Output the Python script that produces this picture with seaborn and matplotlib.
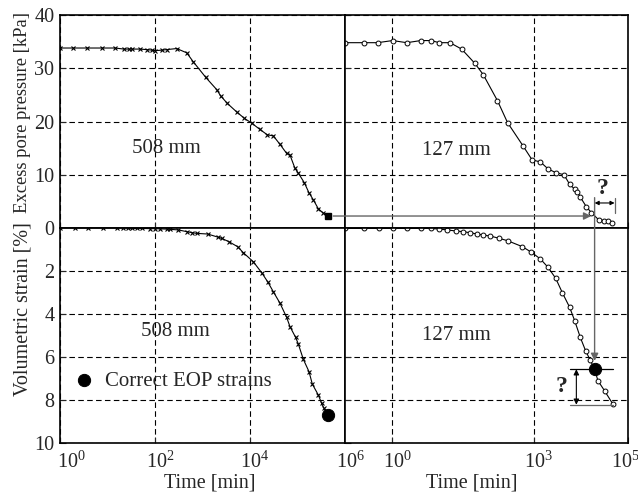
import numpy as np
import pandas as pd
import matplotlib
matplotlib.use('Agg')
import matplotlib.pyplot as plt
import seaborn as sns
from matplotlib.patches import ConnectionPatch
from matplotlib.transforms import ScaledTranslation
from matplotlib.ticker import FixedLocator, LogFormatterSciNotation, NullLocator, NullFormatter

sns.set_theme(style='ticks')
plt.rcParams['font.family'] = ['Liberation Serif', 'DejaVu Serif']
plt.rcParams['mathtext.fontset'] = 'custom'
plt.rcParams['mathtext.rm'] = 'Liberation Serif'
plt.rcParams['mathtext.it'] = 'Liberation Serif:italic'
plt.rcParams['mathtext.bf'] = 'Liberation Serif:bold'

# ---------------- data ----------------
# 508 mm specimen: excess pore pressure [kPa] vs time [min]
t_pp_508 = [1, 1.9, 3.76, 7.5, 14.4, 22.2, 28.4, 33.3, 48.3, 66.8, 87.9, 100, 138, 176, 286,
            465, 641, 1167, 1986, 2415, 3334, 5236, 7603, 10839, 16218, 23174, 30974,
            42855, 59156, 69502, 88512, 104200, 139300, 174600, 215300, 274800, 349900, 431500]
u_508 = [33.8, 33.8, 33.8, 33.8, 33.8, 33.6, 33.6, 33.6, 33.6, 33.5, 33.4, 33.3, 33.4, 33.5, 33.7,
         32.9, 31.2, 28.3, 26.0, 24.8, 23.4, 21.8, 20.6, 19.7, 18.5, 17.5, 17.3,
         15.7, 14.0, 13.7, 11.2, 10.3, 8.5, 6.6, 5.3, 3.6, 2.8, 2.25]

# 127 mm specimen: excess pore pressure [kPa] vs time [min]
t_pp_127 = [0.101, 0.248, 0.49, 1.02, 2.04, 4.04, 6.67, 10, 16.8, 29.7, 56.9, 85.3, 171, 279,
            597, 925, 1390, 2018, 2931, 4395, 5794, 7396, 8433, 9750, 13060, 16630, 24150,
            30340, 37410, 46340]
u_127 = [34.8, 34.8, 34.8, 35.2, 34.8, 35.2, 35.2, 34.8, 34.8, 33.6, 30.9, 28.8, 23.9, 19.8,
         15.4, 12.8, 12.4, 11.1, 10.4, 10.0, 8.2, 7.3, 6.8, 5.8, 4.0, 2.9, 1.5,
         1.4, 1.3, 1.0]

# 508 mm specimen: volumetric strain [%]
t_ev_508 = [1, 2.07, 3.94, 8.17, 15.6, 21.5, 27.5, 33.3, 41.1, 54.1, 78.5, 100, 127, 176, 207,
            309, 468, 611, 753, 1285, 2153, 2529, 3614, 5495, 7244, 11750, 17620, 23550,
            30900, 42855, 59156, 69502, 91410, 104200, 132700, 174600, 205100, 274800,
            322800, 361400, 431500]
ev_508 = [0.0, 0.0, 0.0, 0.0, 0.0, 0.0, 0.0, 0.02, 0.02, 0.02, 0.03, 0.03, 0.04, 0.05, 0.06,
          0.09, 0.17, 0.22, 0.25, 0.28, 0.43, 0.48, 0.64, 0.87, 1.15, 1.57, 2.08, 2.5,
          2.96, 3.5, 4.16, 4.59, 5.09, 5.4, 6.11, 6.68, 7.26, 7.77, 8.16, 8.39, 8.7]

# 127 mm specimen: volumetric strain [%]
t_ev_127 = [0.101, 0.248, 0.514, 1.02, 2.04, 4.04, 6.67, 10, 14.8, 22.5, 32.2, 44.6, 63.7,
            85.3, 118, 186, 279, 579, 897, 1390, 2018, 2931, 4055, 5794, 7396, 9750,
            12620, 15850, 19590, 23010, 31840, 47750]
ev_127 = [0.02, 0.02, 0.02, 0.02, 0.02, 0.02, 0.02, 0.05, 0.09, 0.14, 0.17, 0.22, 0.28,
          0.33, 0.37, 0.48, 0.59, 0.87, 1.13, 1.44, 1.83, 2.34, 3.01, 3.69, 4.31, 5.09,
          5.71, 6.15, 6.57, 7.1, 7.57, 8.19]

# correct EOP strains
eop_t_508, eop_ev_508 = [431500], [8.7]
eop_t_127, eop_ev_127 = [19590], [6.57]
eop_u_508 = 2.25

left_ticks = [1, 1e2, 1e4, 1e6]
right_ticks = [1, 1e3, 1e5]

# ---------------- figure ----------------
W, H = 638, 495
fig = plt.figure(figsize=(W / 100, H / 100), dpi=100)

def px_axes(l, t, r, b):
    return fig.add_axes([l / W, 1 - b / H, (r - l) / W, (b - t) / H])

ax_tl = px_axes(60, 15, 345, 228)
ax_tr = px_axes(345, 15, 628, 228)
ax_bl = px_axes(60, 228, 345, 443)
ax_br = px_axes(345, 228, 628, 443)

FS = 14.5
for ax in (ax_tl, ax_tr, ax_bl, ax_br):
    ax.set_xscale('log')
    for s in ax.spines.values():
        s.set_linewidth(1.2)
        s.set_color('black')

line_kw = dict(color='black', linewidth=0.8, estimator=None, sort=False)

sns.lineplot(x=t_pp_508, y=u_508, ax=ax_tl, marker='x', markersize=3.5,
             markeredgewidth=0.8, markeredgecolor='black', **line_kw)
ax_tl.plot([t_pp_508[-1]], [eop_u_508], marker='s', color='black', markersize=5, zorder=5)

sns.lineplot(x=t_pp_127, y=u_127, ax=ax_tr, marker='o', markersize=3.5,
             markeredgewidth=0.7, markeredgecolor='black', markerfacecolor='white', **line_kw)

sns.lineplot(x=t_ev_508, y=ev_508, ax=ax_bl, marker='x', markersize=3.5,
             markeredgewidth=0.8, markeredgecolor='black', **line_kw)
sns.scatterplot(x=eop_t_508, y=eop_ev_508, ax=ax_bl, s=78, color='black',
                edgecolor='black', zorder=6, label='Correct EOP strains')

sns.lineplot(x=t_ev_127, y=ev_127, ax=ax_br, marker='o', markersize=3.5,
             markeredgewidth=0.7, markeredgecolor='black', markerfacecolor='white', **line_kw)
sns.scatterplot(x=eop_t_127, y=eop_ev_127, ax=ax_br, s=78, color='black',
                edgecolor='black', zorder=6)

# limits & ticks
for ax in (ax_tl, ax_bl):
    ax.set_xlim(1, 1e6)
    ax.xaxis.set_major_locator(FixedLocator(left_ticks))
for ax in (ax_tr, ax_br):
    ax.set_xlim(0.1, 1e5)
    ax.xaxis.set_major_locator(FixedLocator(right_ticks))
for ax in (ax_tl, ax_tr):
    ax.set_ylim(0, 40)
    ax.set_yticks([0, 10, 20, 30, 40])
    ax.xaxis.set_major_formatter(NullFormatter())
for ax in (ax_bl, ax_br):
    ax.set_ylim(10, 0)
    ax.set_yticks([2, 4, 6, 8, 10])
    ax.xaxis.set_major_formatter(LogFormatterSciNotation())
for ax in (ax_tr, ax_br):
    ax.set_yticklabels([])
for ax in (ax_tl, ax_tr, ax_bl, ax_br):
    ax.xaxis.set_minor_locator(NullLocator())
    ax.xaxis.set_minor_formatter(NullFormatter())
    ax.tick_params(direction='in', length=4, width=0.8, labelsize=FS, pad=4,
                   top=False, right=False)
    ax.tick_params(axis='x', pad=6)
    ax.grid(True, color='black', linestyle=(0, (5, 3)), linewidth=0.8)
    ax.set_xlabel('')
    ax.set_ylabel('')
    ax.set_axisbelow(True)

# x tick labels sit slightly right of their ticks in the reference
offsets = {ax_bl: [11, 5, 5, 5], ax_br: [5, 5, -3]}
for ax, offs in offsets.items():
    for lab, dx in zip(ax.get_xticklabels(), offs):
        lab.set_transform(lab.get_transform() + ScaledTranslation(dx / 100, 0, fig.dpi_scale_trans))

# legend
ax_bl.legend(loc='center left', bbox_to_anchor=(0.048, 0.288), frameon=False,
             fontsize=FS + 0.5, handlelength=1.0, handletextpad=0.5,
             borderpad=0, borderaxespad=0)

# labels
fig.text(23 / W, 1 - 112.5 / H, 'Excess pore pressure [kPa]', rotation=90,
         ha='center', va='center', fontsize=13.4)
fig.text(23 / W, 1 - 309 / H, 'Volumetric strain [%]', rotation=90,
         ha='center', va='center', fontsize=FS)
fig.text(210 / W, 1 - 483 / H, 'Time [min]', ha='center', va='center', fontsize=FS)
fig.text(471.7 / W, 1 - 483 / H, 'Time [min]', ha='center', va='center', fontsize=FS)

# panel labels
ax_tl.text(170, 15.0, '508 mm', ha='center', va='center', fontsize=FS + 0.5)
ax_tr.text(23, 14.5, '127 mm', ha='center', va='center', fontsize=FS + 0.5)
ax_bl.text(270, 4.8, '508 mm', ha='center', va='center', fontsize=FS + 0.5)
ax_br.text(23, 5.0, '127 mm', ha='center', va='center', fontsize=FS + 0.5)

# arrows between panels
con1 = ConnectionPatch(xyA=(t_pp_508[-1], eop_u_508), coordsA=ax_tl.transData,
                       xyB=(16600, eop_u_508), coordsB=ax_tr.transData,
                       arrowstyle='-|>', color='0.4', lw=1.0, mutation_scale=11,
                       shrinkA=4, shrinkB=0, zorder=10)
fig.add_artist(con1)
con2 = ConnectionPatch(xyA=(eop_t_127[0], 5.7), coordsA=ax_tr.transData,
                       xyB=(eop_t_127[0], eop_ev_127[0]), coordsB=ax_br.transData,
                       arrowstyle='-|>', color='0.4', lw=1.0, mutation_scale=11,
                       shrinkA=0, shrinkB=6, zorder=10)
fig.add_artist(con2)

# "?" for time difference (top right)
ax_tr.plot([51900, 51900], [5.6, 2.8], color='0.4', lw=0.9)
ax_tr.annotate('', xy=(eop_t_127[0], 4.7), xytext=(51900, 4.7),
               arrowprops=dict(arrowstyle='<|-|>', color='black', lw=0.8,
                               mutation_scale=6, shrinkA=0, shrinkB=0))
ax_tr.text(28500, 7.5, '?', ha='center', va='center', fontsize=17, fontweight='bold')

# "?" for strain difference (bottom right)
ax_br.plot([5794, 47750], [eop_ev_127[0], eop_ev_127[0]], color='black', lw=0.9)
ax_br.plot([5794, 47750], [8.22, 8.22], color='0.4', lw=0.9)
ax_br.annotate('', xy=(8035, eop_ev_127[0]), xytext=(8035, 8.22),
               arrowprops=dict(arrowstyle='<|-|>', color='black', lw=0.8,
                               mutation_scale=8, shrinkA=0, shrinkB=0))
ax_br.text(3890, 7.38, '?', ha='center', va='center', fontsize=17, fontweight='bold')

fig.savefig('out.png', dpi=100)
